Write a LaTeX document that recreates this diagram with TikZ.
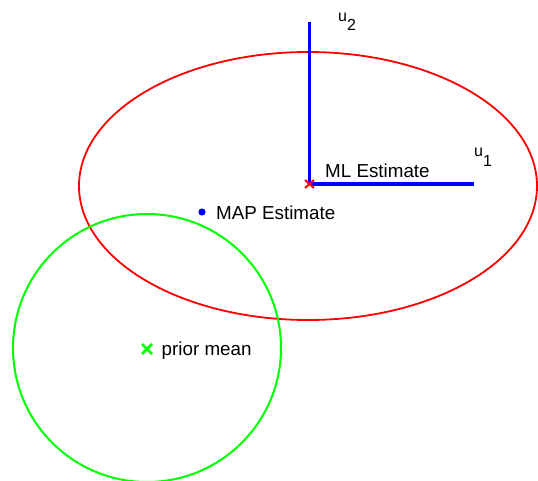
\documentclass[tikz,border=0pt]{standalone}
\usepackage{fontspec}
\setmainfont{Liberation Sans}
\begin{document}
\begin{tikzpicture}[x=1pt,y=-1pt,
  lbl/.style={inner sep=0pt,anchor=base west,font=\fontsize{18.8}{20}\selectfont},
  sublbl/.style={inner sep=0pt,anchor=base west,font=\fontsize{16}{17}\selectfont},
  axisline/.style={draw=blue,line width=3.5pt},
  redline/.style={draw=red,line width=1.8pt},
  greenline/.style={draw=green,line width=2pt}]
\useasboundingbox (0,0) rectangle (538,481);
% ellipses
\draw[redline] (308,186) ellipse [x radius=229, y radius=134];
\draw[greenline] (147,348) circle [radius=134];
% ML estimate point and axes
\coordinate (ml) at (309.5,184);
\coordinate (u2end) at (309.5,22);
\coordinate (u1end) at (474,184);
\draw[axisline] (ml) -- (u2end);
\draw[axisline] (ml) -- (u1end);
\draw[red,line width=2pt] (305,180) -- (314,188) (305,188) -- (314,180);
% MAP
\fill[blue] (202,212) circle [radius=3.6];
\node[lbl] (maptxt) at (216,220) {MAP Estimate};
\node[lbl] (mltxt) at (325,178) {ML Estimate};
% prior mean
\draw[green,line width=2.5pt] (142,344) -- (152,354) (142,354) -- (152,344);
\node[lbl] (priortxt) at (161.5,355) {prior mean};
% axis labels
\node[sublbl] (u2) at (338,22) {u};
\node[sublbl] (u2s) at (347,30.5) {2};
\node[sublbl] (u1) at (474,157) {u};
\node[sublbl] (u1s) at (483,166.5) {1};
\end{tikzpicture}
\end{document}
